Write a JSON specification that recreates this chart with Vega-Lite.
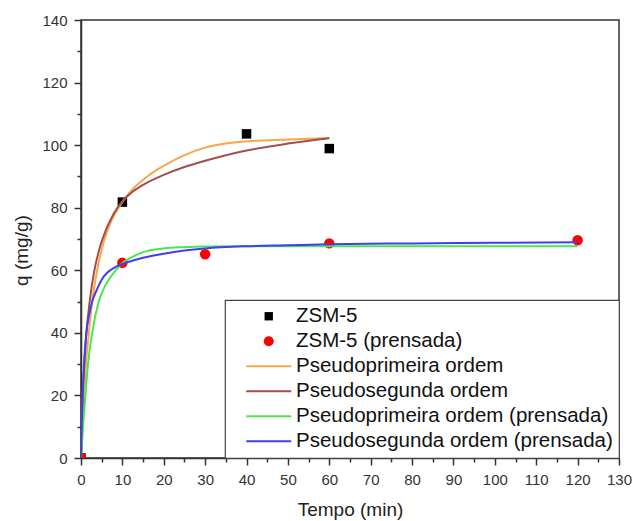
{
  "$schema": "https://vega.github.io/schema/vega-lite/v6.json",
  "width": 538,
  "height": 438,
  "autosize": {"type": "none"},
  "padding": {"left": 81, "top": 20, "right": 14, "bottom": 63},
  "background": "white",
  "config": {
    "font": "Liberation Sans",
    "view": {"stroke": "#333", "strokeWidth": 1.5},
    "axis": {
      "grid": false,
      "domainColor": "#333",
      "domainWidth": 1.5,
      "tickColor": "#333",
      "tickWidth": 1.5,
      "labelColor": "#333",
      "titleColor": "#222",
      "labelFont": "Liberation Sans",
      "titleFont": "Liberation Sans",
      "labelFontSize": 15,
      "titleFontSize": 19,
      "titleFontWeight": "normal",
      "labelOverlap": false,
      "labelFlush": false
    }
  },
  "datasets": {
    "pts": [
      {"s": "ZSM-5", "t": 0, "q": 0},
      {"s": "ZSM-5", "t": 10, "q": 81.8},
      {"s": "ZSM-5", "t": 40, "q": 103.6},
      {"s": "ZSM-5", "t": 60, "q": 98.9},
      {"s": "ZSM-5 (prensada)", "t": 0, "q": 0},
      {"s": "ZSM-5 (prensada)", "t": 10, "q": 62.4},
      {"s": "ZSM-5 (prensada)", "t": 30, "q": 65.1},
      {"s": "ZSM-5 (prensada)", "t": 60, "q": 68.6},
      {"s": "ZSM-5 (prensada)", "t": 120, "q": 69.6}
    ],
    "fit": [
      {"s": "Pseudoprimeira ordem", "t": 0, "q": 0},
      {"s": "Pseudoprimeira ordem", "t": 0.35, "q": 10},
      {"s": "Pseudoprimeira ordem", "t": 0.73, "q": 20},
      {"s": "Pseudoprimeira ordem", "t": 1.2, "q": 30},
      {"s": "Pseudoprimeira ordem", "t": 1.9, "q": 40},
      {"s": "Pseudoprimeira ordem", "t": 2.7, "q": 50},
      {"s": "Pseudoprimeira ordem", "t": 3.9, "q": 60},
      {"s": "Pseudoprimeira ordem", "t": 5.7, "q": 70},
      {"s": "Pseudoprimeira ordem", "t": 7.4, "q": 76},
      {"s": "Pseudoprimeira ordem", "t": 9.2, "q": 80.2},
      {"s": "Pseudoprimeira ordem", "t": 11, "q": 83.6},
      {"s": "Pseudoprimeira ordem", "t": 13, "q": 86.6},
      {"s": "Pseudoprimeira ordem", "t": 16, "q": 90},
      {"s": "Pseudoprimeira ordem", "t": 20, "q": 93.4},
      {"s": "Pseudoprimeira ordem", "t": 25, "q": 96.8},
      {"s": "Pseudoprimeira ordem", "t": 30, "q": 99.2},
      {"s": "Pseudoprimeira ordem", "t": 35, "q": 100.5},
      {"s": "Pseudoprimeira ordem", "t": 40, "q": 101.2},
      {"s": "Pseudoprimeira ordem", "t": 50, "q": 101.8},
      {"s": "Pseudoprimeira ordem", "t": 60, "q": 102.3},
      {"s": "Pseudosegunda ordem", "t": 0, "q": 0},
      {"s": "Pseudosegunda ordem", "t": 0.2, "q": 10},
      {"s": "Pseudosegunda ordem", "t": 0.4, "q": 20},
      {"s": "Pseudosegunda ordem", "t": 0.8, "q": 30},
      {"s": "Pseudosegunda ordem", "t": 1.3, "q": 40},
      {"s": "Pseudosegunda ordem", "t": 2.1, "q": 50},
      {"s": "Pseudosegunda ordem", "t": 3.1, "q": 59},
      {"s": "Pseudosegunda ordem", "t": 4.7, "q": 68},
      {"s": "Pseudosegunda ordem", "t": 6, "q": 72.8},
      {"s": "Pseudosegunda ordem", "t": 8, "q": 78.3},
      {"s": "Pseudosegunda ordem", "t": 10, "q": 82.1},
      {"s": "Pseudosegunda ordem", "t": 12, "q": 84.6},
      {"s": "Pseudosegunda ordem", "t": 15, "q": 87.3},
      {"s": "Pseudosegunda ordem", "t": 20, "q": 90.5},
      {"s": "Pseudosegunda ordem", "t": 25, "q": 93},
      {"s": "Pseudosegunda ordem", "t": 30, "q": 95},
      {"s": "Pseudosegunda ordem", "t": 40, "q": 98.3},
      {"s": "Pseudosegunda ordem", "t": 50, "q": 100.5},
      {"s": "Pseudosegunda ordem", "t": 60, "q": 102.2},
      {"s": "Pseudoprimeira ordem (prensada)", "t": 0, "q": 0},
      {"s": "Pseudoprimeira ordem (prensada)", "t": 0.5, "q": 10},
      {"s": "Pseudoprimeira ordem (prensada)", "t": 1.05, "q": 20},
      {"s": "Pseudoprimeira ordem (prensada)", "t": 1.7, "q": 30},
      {"s": "Pseudoprimeira ordem (prensada)", "t": 2.7, "q": 40},
      {"s": "Pseudoprimeira ordem (prensada)", "t": 4.3, "q": 50},
      {"s": "Pseudoprimeira ordem (prensada)", "t": 6, "q": 55.5},
      {"s": "Pseudoprimeira ordem (prensada)", "t": 8.4, "q": 60},
      {"s": "Pseudoprimeira ordem (prensada)", "t": 10, "q": 62.3},
      {"s": "Pseudoprimeira ordem (prensada)", "t": 12, "q": 64},
      {"s": "Pseudoprimeira ordem (prensada)", "t": 15, "q": 65.8},
      {"s": "Pseudoprimeira ordem (prensada)", "t": 20, "q": 67},
      {"s": "Pseudoprimeira ordem (prensada)", "t": 25, "q": 67.4},
      {"s": "Pseudoprimeira ordem (prensada)", "t": 30, "q": 67.6},
      {"s": "Pseudoprimeira ordem (prensada)", "t": 40, "q": 67.7},
      {"s": "Pseudoprimeira ordem (prensada)", "t": 60, "q": 67.7},
      {"s": "Pseudoprimeira ordem (prensada)", "t": 90, "q": 67.7},
      {"s": "Pseudoprimeira ordem (prensada)", "t": 120, "q": 67.7},
      {"s": "Pseudosegunda ordem (prensada)", "t": 0, "q": 0},
      {"s": "Pseudosegunda ordem (prensada)", "t": 0.2, "q": 12},
      {"s": "Pseudosegunda ordem (prensada)", "t": 0.4, "q": 20},
      {"s": "Pseudosegunda ordem (prensada)", "t": 0.73, "q": 30},
      {"s": "Pseudosegunda ordem (prensada)", "t": 1.3, "q": 40},
      {"s": "Pseudosegunda ordem (prensada)", "t": 2, "q": 46},
      {"s": "Pseudosegunda ordem (prensada)", "t": 2.7, "q": 50},
      {"s": "Pseudosegunda ordem (prensada)", "t": 3.9, "q": 54},
      {"s": "Pseudosegunda ordem (prensada)", "t": 5, "q": 57},
      {"s": "Pseudosegunda ordem (prensada)", "t": 6.3, "q": 59.2},
      {"s": "Pseudosegunda ordem (prensada)", "t": 8, "q": 60.8},
      {"s": "Pseudosegunda ordem (prensada)", "t": 9.6, "q": 61.8},
      {"s": "Pseudosegunda ordem (prensada)", "t": 12, "q": 62.9},
      {"s": "Pseudosegunda ordem (prensada)", "t": 15, "q": 64},
      {"s": "Pseudosegunda ordem (prensada)", "t": 20, "q": 65.3},
      {"s": "Pseudosegunda ordem (prensada)", "t": 25, "q": 66.3},
      {"s": "Pseudosegunda ordem (prensada)", "t": 30, "q": 67},
      {"s": "Pseudosegunda ordem (prensada)", "t": 40, "q": 67.7},
      {"s": "Pseudosegunda ordem (prensada)", "t": 50, "q": 68},
      {"s": "Pseudosegunda ordem (prensada)", "t": 60, "q": 68.3},
      {"s": "Pseudosegunda ordem (prensada)", "t": 80, "q": 68.6},
      {"s": "Pseudosegunda ordem (prensada)", "t": 100, "q": 68.8},
      {"s": "Pseudosegunda ordem (prensada)", "t": 120, "q": 69}
    ]
  },
  "layer": [
    {
      "data": {"name": "pts"},
      "transform": [{"filter": "datum.s === 'ZSM-5'"}],
      "mark": {"type": "square", "size": 90, "opacity": 1, "clip": true},
      "encoding": {
        "x": {"field": "t", "type": "quantitative", "scale": {"domain": [0, 130], "nice": false},
          "axis": {"orient": "bottom", "values": [5, 15, 25, 35, 45, 55, 65, 75, 85, 95, 105, 115, 125], "tickSize": 4, "labels": false, "domain": false, "title": null}},
        "y": {"field": "q", "type": "quantitative", "scale": {"domain": [0, 140], "nice": false},
          "axis": {"orient": "left", "values": [10, 30, 50, 70, 90, 110, 130], "tickSize": 4, "labels": false, "domain": false, "title": null}},
        "color": {"field": "s", "type": "nominal"}
      }
    },
    {
      "data": {"name": "pts"},
      "transform": [{"filter": "datum.s === 'ZSM-5 (prensada)'"}],
      "mark": {"type": "circle", "size": 110, "opacity": 1, "clip": true},
      "encoding": {
        "x": {"field": "t", "type": "quantitative", "axis": null},
        "y": {"field": "q", "type": "quantitative", "axis": null},
        "color": {"field": "s", "type": "nominal"}
      }
    },
    {
      "data": {"name": "fit"},
      "mark": {"type": "line", "strokeWidth": 2, "interpolate": "monotone", "clip": true},
      "encoding": {
        "x": {"field": "t", "type": "quantitative",
          "axis": {"orient": "bottom", "values": [0, 10, 20, 30, 40, 50, 60, 70, 80, 90, 100, 110, 120, 130], "tickSize": 7, "labelPadding": 7, "title": "Tempo (min)", "titleBaseline": "alphabetic", "titleY": 57}},
        "y": {"field": "q", "type": "quantitative",
          "axis": {"orient": "left", "values": [0, 20, 40, 60, 80, 100, 120, 140], "tickSize": 7, "labelPadding": 7, "title": "q (mg/g)", "titleX": -60, "titleY": 230, "titleBaseline": "middle", "titleAlign": "center"}},
        "color": {
          "field": "s",
          "type": "nominal",
          "scale": {
            "domain": ["ZSM-5", "ZSM-5 (prensada)", "Pseudoprimeira ordem", "Pseudosegunda ordem", "Pseudoprimeira ordem (prensada)", "Pseudosegunda ordem (prensada)"],
            "range": ["#000000", "#ff0000", "#f9a64a", "#a24e4c", "#4ce64c", "#3f3ff0"]
          },
          "legend": {
            "title": null,
            "orient": "bottom-right",
            "offset": 0,
            "padding": 6,
            "strokeColor": "#444",
            "fillColor": "white",
            "labelFont": "Liberation Sans",
            "labelFontSize": 20.5,
            "labelColor": "#111",
            "labelLimit": 500,
            "labelOffset": 17,
            "symbolSize": 2025,
            "symbolOffset": 27.5,
            "rowPadding": 4,
            "encode": {
              "legend": {"update": {"strokeWidth": {"value": 1.2}}},
              "symbols": {
                "update": {
                  "shape": {"signal": "datum.value === 'ZSM-5' ? 'square' : datum.value === 'ZSM-5 (prensada)' ? 'circle' : 'M-1,0H1'"},
                  "size": {"signal": "datum.value === 'ZSM-5' ? 70 : datum.value === 'ZSM-5 (prensada)' ? 100 : 2025"},
                  "fill": {"signal": "(datum.value === 'ZSM-5' || datum.value === 'ZSM-5 (prensada)') ? scale('color', datum.value) : 'transparent'"},
                  "stroke": {"signal": "scale('color', datum.value)"},
                  "strokeWidth": {"signal": "(datum.value === 'ZSM-5' || datum.value === 'ZSM-5 (prensada)') ? 0 : 2"},
                  "opacity": {"value": 1}
                }
              }
            }
          }
        }
      }
    }
  ],
  "resolve": {"axis": {"x": "independent", "y": "independent"}}
}
